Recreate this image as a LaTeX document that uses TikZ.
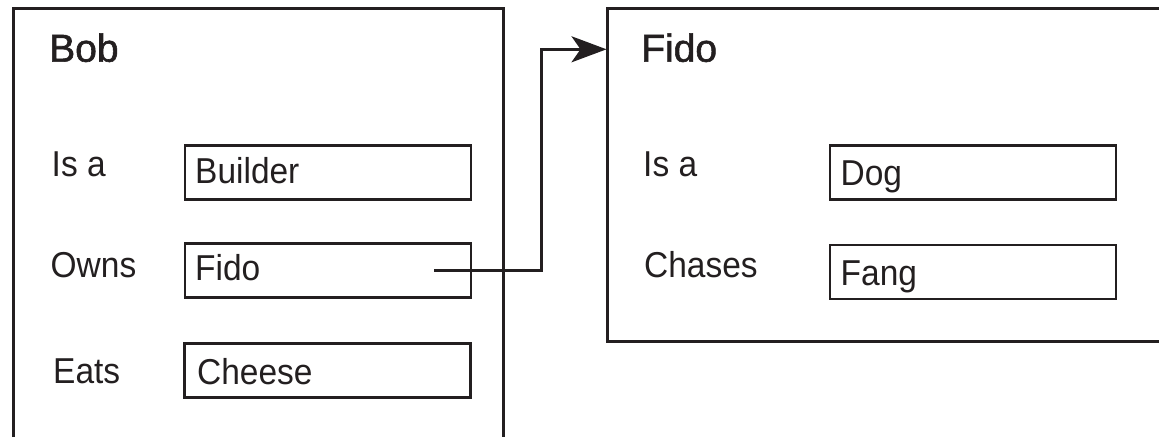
\documentclass[tikz,border=0pt]{standalone}
\usepackage{fontspec}
\setmainfont{Liberation Sans}
\newfontfamily\condfont{Liberation Sans}[FakeStretch=0.93]
\newfontfamily\titlefont{Liberation Sans}[FakeBold=1.5]
\usetikzlibrary{arrows.meta}
\definecolor{ink}{HTML}{231F20}
\tikzset{
  frame/.style={draw=ink, line width=2.7pt},
  valbox/.style={draw=ink, line width=2.7pt, rectangle, inner sep=0pt, minimum width=286pt, minimum height=54pt},
  title/.style={anchor=base west, inner sep=0pt, text=ink, font=\titlefont\fontsize{39}{42}\selectfont},
  lbl/.style={anchor=base west, inner sep=0pt, text=ink, font=\condfont\fontsize{36}{40}\selectfont},
  conn/.style={draw=ink, line width=2.7pt, -{Stealth[length=35pt, width=26pt, inset=9pt]}}
}
\begin{document}
\begin{tikzpicture}[x=1pt, y=-1pt]
\useasboundingbox (0,0) rectangle (1159,437);
\clip (0,0) rectangle (1159,437);
% frames
\draw[frame] (13.3,437) -- (13.3,8.3) -- (503.5,8.3) -- (503.5,437);
\draw[frame] (1160,8.3) -- (607.6,8.3) -- (607.6,341.7) -- (1160,341.7);
% titles
\node[title] (tBob) at (49,61.7) {Bob};
\node[title] (tFido) at (641,61.7) {Fido};
% Bob slots
\node[lbl] (lIsaB) at (51.5,176.7) {Is a};
\node[lbl] (lOwns) at (50.5,277.7) {Owns};
\node[lbl] (lEats) at (53,383.3) {Eats};
\node[valbox] (bBuilder) at (328,172.5) {};
\node[valbox] (bFido) at (328,270.4) {};
\node[valbox] (bCheese) at (327.7,370.4) {};
\node[lbl] (vBuilder) at (195,183.3) {Builder};
\node[lbl] (vFido) at (195,280) {Fido};
\node[lbl] (vCheese) at (197,384) {Cheese};
% Fido slots
\node[lbl] (lIsaF) at (643,176.7) {Is a};
\node[lbl] (lChases) at (644,277.7) {Chases};
\node[valbox] (bDog) at (973,172.2) {};
\node[valbox] (bFang) at (973,271.9) {};
\node[lbl] (vDog) at (840.5,185) {Dog};
\node[lbl] (vFang) at (840.5,285) {Fang};
% connector
\coordinate (cStart) at (434.4,270.7);
\coordinate (cBend) at (541.6,270.7);
\coordinate (cEnd) at (606.5,49.3);
\draw[conn] (cStart) -- (cBend) |- (cEnd);
\end{tikzpicture}
\end{document}
